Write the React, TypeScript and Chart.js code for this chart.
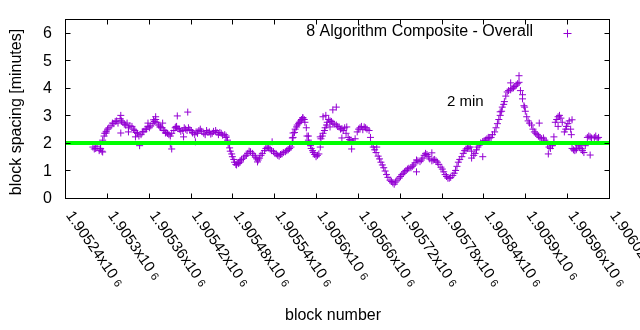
import React, { useEffect, useRef } from "react";
import { Chart, registerables } from "chart.js";

Chart.register(...registerables);

const FONT = '"Liberation Sans", Arial, sans-serif';

const BLOCKS = [
  1905280, 1905284, 1905289, 1905291, 1905294, 1905297, 1905301, 1905306, 1905310, 1905314,
  1905319, 1905323, 1905327, 1905331, 1905336, 1905340, 1905344, 1905349, 1905353, 1905357,
  1905361, 1905366, 1905370, 1905374, 1905379, 1905383, 1905387, 1905391, 1905396, 1905400,
  1905404, 1905409, 1905413, 1905417, 1905421, 1905426, 1905430, 1905434, 1905439, 1905443,
  1905447, 1905451, 1905456, 1905460, 1905464, 1905469, 1905471, 1905474, 1905477, 1905480,
  1905483, 1905486, 1905489, 1905491, 1905496, 1905500, 1905504, 1905509, 1905513, 1905517,
  1905521, 1905526, 1905530, 1905534, 1905539, 1905543, 1905547, 1905551, 1905556, 1905560,
  1905564, 1905567, 1905570, 1905573, 1905576, 1905579, 1905581, 1905584, 1905587, 1905590,
  1905593, 1905596, 1905600, 1905604, 1905607, 1905610, 1905613, 1905616, 1905620, 1905624,
  1905629, 1905633, 1905637, 1905641, 1905646, 1905650, 1905654, 1905659, 1905663, 1905667,
  1905671, 1905676, 1905680, 1905684, 1905689, 1905693, 1905697, 1905701, 1905706, 1905710,
  1905714, 1905719, 1905723, 1905727, 1905731, 1905736, 1905740, 1905744, 1905749, 1905753,
  1905757, 1905761, 1905766, 1905770, 1905774, 1905779, 1905783, 1905787, 1905791, 1905796,
  1905800, 1905804, 1905809, 1905813, 1905817, 1905821, 1905826, 1905830, 1905834, 1905839,
  1905843, 1905847, 1905851, 1905856, 1905860, 1905864, 1905867, 1905870, 1905874, 1905879,
  1905883, 1905887, 1905891, 1905896, 1905900, 1905904, 1905909, 1905913, 1905917, 1905921,
  1905926, 1905930, 1905934, 1905939, 1905943, 1905947, 1905951, 1905956, 1905959, 1905963,
  1905967, 1905971, 1905976, 1905980, 1905984, 1905989, 1905993, 1905999, 1906003,
];

const SPACING = [
  1.85, 1.8, 1.72, 1.78, 2.1, 2.35, 2.5, 2.62, 2.7, 2.8,
  2.88, 2.75, 2.65, 2.55, 2.6, 2.45, 2.35, 2.3, 2.42, 2.5,
  2.55, 2.7, 2.85, 2.65, 2.55, 2.45, 2.35, 2.25, 2.45, 2.6,
  2.5, 2.45, 2.5, 2.55, 2.45, 2.3, 2.35, 2.5, 2.35, 2.45,
  2.4, 2.35, 2.45, 2.3, 2.35, 2.3, 2.2, 1.95, 1.7, 1.5,
  1.3, 1.2, 1.25, 1.35, 1.45, 1.55, 1.7, 1.62, 1.48, 1.38,
  1.55, 1.72, 1.85, 1.78, 1.68, 1.6, 1.52, 1.6, 1.68, 1.75,
  1.85, 2.2, 2.5, 2.65, 2.75, 2.85, 2.92, 2.75, 2.25, 2.0,
  1.8, 1.65, 1.5, 1.6, 2.15, 2.35, 2.55, 2.75, 2.8, 2.72,
  2.65, 2.58, 2.52, 2.55, 2.2, 2.1, 2.05, 2.4, 2.55, 2.48,
  2.55, 2.45, 1.95, 1.75, 1.52, 1.3, 1.1, 0.85, 0.65, 0.55,
  0.58, 0.72, 0.85, 0.95, 1.05, 1.1, 1.2, 1.38, 1.32, 1.45,
  1.62, 1.5, 1.35, 1.4, 1.3, 1.12, 0.95, 0.78, 0.72, 0.82,
  1.0, 1.3, 1.5, 1.72, 1.8, 1.85, 1.55, 1.75, 1.92, 2.05,
  2.1, 2.2, 2.2, 2.4, 2.7, 3.0, 3.3, 3.5, 3.85, 3.93,
  4.0, 4.1, 4.2, 3.6, 3.15, 2.8, 2.65, 2.4, 2.3, 2.2,
  2.18, 2.05, 1.85, 1.9, 2.75, 2.95, 2.9, 2.4, 2.6, 2.8,
  1.8, 1.72, 1.9, 1.8, 1.65, 2.2, 2.22, 2.2, 2.15,
];

// second reading of the same band (its other edge), a couple of blocks later
const BLOCKS_B = [
  1905282, 1905286, 1905291, 1905293, 1905296, 1905299, 1905303, 1905308, 1905312, 1905316,
  1905321, 1905325, 1905329, 1905333, 1905338, 1905342, 1905346, 1905351, 1905355, 1905359,
  1905363, 1905368, 1905372, 1905376, 1905381, 1905385, 1905389, 1905393, 1905398, 1905402,
  1905406, 1905411, 1905415, 1905419, 1905423, 1905428, 1905432, 1905436, 1905441, 1905445,
  1905449, 1905453, 1905458, 1905462, 1905466, 1905471, 1905473, 1905476, 1905479, 1905482,
  1905485, 1905488, 1905491, 1905493, 1905498, 1905502, 1905506, 1905511, 1905515, 1905519,
  1905523, 1905528, 1905532, 1905536, 1905541, 1905545, 1905549, 1905553, 1905558, 1905562,
  1905566, 1905569, 1905572, 1905575, 1905578, 1905581, 1905583, 1905586, 1905589, 1905592,
  1905595, 1905598, 1905602, 1905606, 1905609, 1905612, 1905615, 1905618, 1905622, 1905626,
  1905631, 1905635, 1905639, 1905643, 1905648, 1905652, 1905656, 1905661, 1905665, 1905669,
  1905673, 1905678, 1905682, 1905686, 1905691, 1905695, 1905699, 1905703, 1905708, 1905712,
  1905716, 1905721, 1905725, 1905729, 1905733, 1905738, 1905742, 1905746, 1905751, 1905755,
  1905759, 1905763, 1905768, 1905772, 1905776, 1905781, 1905785, 1905789, 1905793, 1905798,
  1905802, 1905806, 1905811, 1905815, 1905819, 1905823, 1905828, 1905832, 1905836, 1905841,
  1905845, 1905849, 1905853, 1905858, 1905862, 1905866, 1905869, 1905872, 1905876, 1905881,
  1905885, 1905889, 1905893, 1905898, 1905902, 1905906, 1905911, 1905915, 1905919, 1905923,
  1905928, 1905932, 1905936, 1905941, 1905945, 1905949, 1905953, 1905958, 1905961, 1905965,
  1905969, 1905973, 1905978, 1905982, 1905986, 1905991, 1905995, 1906001, 1906005,
];

const SPACING_B = [
  1.78, 1.88, 1.8, 1.7, 2.25, 2.42, 2.55, 2.72, 2.78, 2.72,
  2.8, 2.68, 2.72, 2.62, 2.5, 2.38, 2.25, 2.4, 2.5, 2.6,
  2.62, 2.78, 2.75, 2.58, 2.45, 2.38, 2.3, 2.35, 2.55, 2.52,
  2.42, 2.55, 2.45, 2.48, 2.38, 2.4, 2.45, 2.42, 2.3, 2.38,
  2.32, 2.42, 2.38, 2.38, 2.28, 2.25, 2.1, 1.82, 1.6, 1.4,
  1.22, 1.28, 1.3, 1.4, 1.52, 1.62, 1.68, 1.55, 1.42, 1.45,
  1.62, 1.8, 1.82, 1.72, 1.62, 1.55, 1.58, 1.65, 1.72, 1.8,
  2.0, 2.38, 2.58, 2.7, 2.8, 2.9, 2.85, 2.55, 2.1, 1.9,
  1.72, 1.58, 1.55, 1.85, 2.25, 2.45, 2.65, 2.85, 2.78, 2.68,
  2.6, 2.5, 2.45, 2.35, 2.12, 2.05, 2.15, 2.5, 2.6, 2.58,
  2.5, 2.2, 1.85, 1.65, 1.42, 1.2, 0.98, 0.75, 0.6, 0.5,
  0.65, 0.78, 0.9, 1.0, 1.08, 1.15, 1.28, 1.35, 1.38, 1.55,
  1.58, 1.42, 1.38, 1.35, 1.22, 1.05, 0.85, 0.72, 0.75, 0.9,
  1.15, 1.4, 1.62, 1.78, 1.85, 1.7, 1.62, 1.85, 2.0, 2.08,
  2.15, 2.18, 2.3, 2.55, 2.85, 3.15, 3.4, 3.7, 3.9, 3.98,
  4.05, 4.15, 3.9, 3.35, 2.95, 2.72, 2.5, 2.35, 2.25, 2.15,
  2.1, 1.95, 1.8, 2.0, 2.85, 3.0, 2.75, 2.5, 2.7, 2.5,
  1.75, 1.8, 1.85, 1.72, 1.9, 2.25, 2.18, 2.25, 2.2,
];

// scattered points
const OUTLIER_BLOCKS = [
  1905320, 1905347, 1905391, 1905393, 1905401, 1905416, 1905537, 1905589, 1905614, 1905624,
  1905629, 1905637, 1905651, 1905864, 1905879, 1905891, 1905933, 1905947, 1905993,
  1905320, 1905359, 1905370, 1905380, 1905384, 1905399, 1905410, 1905423, 1905331, 1905341,
  1905299, 1905294, 1905427, 1905377, 1905367, 1905566, 1905567, 1905610, 1905620, 1905644,
  1905606, 1905687, 1905516, 1905766, 1905744, 1905896, 1905899, 1905920, 1905941, 1905967,
  1905966, 1905973, 1905839, 1905823,
];
const OUTLIER_SPACING = [
  3.0, 1.9, 1.95, 1.78, 2.98, 3.12, 2.04, 2.25, 3.0, 3.2,
  3.3, 2.18, 1.78, 3.13, 4.18, 4.44, 1.6, 2.6, 1.56,
  2.36, 2.72, 2.95, 2.72, 2.36, 2.58, 2.22, 2.36, 2.4, 2.22,
  2.36, 1.67, 2.04, 2.58, 2.84, 2.18, 2.36, 2.95, 2.58, 2.58,
  2.22, 1.85, 1.31, 1.64, 0.95, 3.75, 3.3, 2.72, 2.22, 2.84,
  2.3, 1.75, 1.5, 1.45,
];

const TARGET = 2;
const X_MIN = 1905240;
const X_MAX = 1906020;
const Y_MIN = 0;
const Y_MAX = 6.5;
const X_TICKS = [
  1905240, 1905300, 1905360, 1905420, 1905480, 1905540, 1905600,
  1905660, 1905720, 1905780, 1905840, 1905900, 1905960, 1906020,
];
const X_TICK_LABELS = [
  "1.90524", "1.9053", "1.90536", "1.90542", "1.90548", "1.90554", "1.9056",
  "1.90566", "1.90572", "1.90578", "1.90584", "1.9059", "1.90596", "1.90602",
];
const Y_TICKS = [0, 1, 2, 3, 4, 5, 6];
const SERIES_LABEL = "8 Algorithm Composite - Overall";
const TARGET_LABEL = "2 min";
const X_TITLE = "block number";
const Y_TITLE = "block spacing [minutes]";

const PURPLE = "#9400d3";
const GREEN = "#00ff00";

export default function App() {
  const ref = useRef<HTMLCanvasElement>(null);

  useEffect(() => {
    const canvas = ref.current;
    if (!canvas) return;

    const points = BLOCKS.map((b, i) => ({ x: b, y: SPACING[i] }))
      .concat(BLOCKS_B.map((b, i) => ({ x: b, y: SPACING_B[i] })))
      .concat(OUTLIER_BLOCKS.map((b, i) => ({ x: b, y: OUTLIER_SPACING[i] })));

    const decor = {
      id: "decor",
      afterDraw(chart: any) {
        const { ctx, chartArea: a } = chart;
        const xs = chart.scales.x;
        const ys = chart.scales.y;
        ctx.save();
        ctx.strokeStyle = "#000";
        ctx.lineWidth = 1;
        const L = Math.round(a.left) + 0.5;
        const R = Math.round(a.right) + 0.5;
        const T = Math.round(a.top) + 0.5;
        const B = Math.round(a.bottom) + 0.5;
        ctx.strokeRect(L, T, R - L, B - T);
        const tl = 5;
        ctx.beginPath();
        X_TICKS.forEach((v) => {
          const px = Math.round(xs.getPixelForValue(v)) + 0.5;
          ctx.moveTo(px, B);
          ctx.lineTo(px, B - tl);
          ctx.moveTo(px, T);
          ctx.lineTo(px, T + tl);
        });
        Y_TICKS.forEach((v) => {
          const py = Math.round(ys.getPixelForValue(v)) + 0.5;
          ctx.moveTo(L, py);
          ctx.lineTo(L + tl, py);
          ctx.moveTo(R, py);
          ctx.lineTo(R - tl, py);
        });
        ctx.stroke();

        ctx.fillStyle = "#000";
        ctx.font = `16px ${FONT}`;
        ctx.textAlign = "right";
        ctx.textBaseline = "middle";
        Y_TICKS.forEach((v) => {
          ctx.fillText(String(v), 52, ys.getPixelForValue(v) + 1);
        });

        const ang = (55 * Math.PI) / 180;
        X_TICKS.forEach((v, i) => {
          const px = xs.getPixelForValue(v);
          ctx.save();
          ctx.translate(px + 4, 213);
          ctx.rotate(ang);
          ctx.textAlign = "left";
          ctx.textBaseline = "middle";
          ctx.font = `15px ${FONT}`;
          const main = X_TICK_LABELS[i] + "x10";
          ctx.fillText(main, 0, 0);
          const w = ctx.measureText(main).width;
          ctx.font = `11px ${FONT}`;
          ctx.fillText("6", w + 4, 1);
          ctx.restore();
        });

        ctx.font = `16px ${FONT}`;
        ctx.textAlign = "center";
        ctx.textBaseline = "middle";
        ctx.fillText(X_TITLE, 333, 316);
        ctx.save();
        ctx.translate(17, 112);
        ctx.rotate(-Math.PI / 2);
        ctx.fillText(Y_TITLE, 0, 0);
        ctx.restore();

        ctx.textAlign = "right";
        ctx.fillText(SERIES_LABEL, 533, 32);
        ctx.strokeStyle = PURPLE;
        ctx.beginPath();
        ctx.moveTo(563.5, 33.5);
        ctx.lineTo(571.5, 33.5);
        ctx.moveTo(567.5, 29.5);
        ctx.lineTo(567.5, 37.5);
        ctx.stroke();

        ctx.fillStyle = "#000";
        ctx.textAlign = "left";
        ctx.font = `15px ${FONT}`;
        ctx.fillText(TARGET_LABEL, 447, 102);
        ctx.restore();
      },
    };

    const chart = new Chart(canvas, {
      type: "scatter",
      data: {
        datasets: [
          {
            type: "line",
            label: TARGET_LABEL,
            data: [
              { x: X_MIN, y: TARGET },
              { x: X_MAX, y: TARGET },
            ],
            borderColor: GREEN,
            borderWidth: 4,
            pointRadius: 0,
            order: 0,
          } as any,
          {
            label: SERIES_LABEL,
            data: points,
            pointStyle: "cross",
            pointRadius: 3.5,
            pointHoverRadius: 3.5,
            borderColor: PURPLE,
            backgroundColor: PURPLE,
            borderWidth: 1,
            showLine: false,
            order: 1,
          },
        ],
      },
      options: {
        animation: false,
        responsive: false,
        maintainAspectRatio: false,
        events: [],
        layout: { padding: { top: 19, right: 31, left: 0, bottom: 0 } },
        plugins: {
          legend: { display: false },
          tooltip: { enabled: false },
        },
        scales: {
          x: {
            type: "linear",
            min: X_MIN,
            max: X_MAX,
            ticks: { display: false },
            grid: { display: false },
            border: { display: false },
            afterFit: (s: any) => {
              s.height = 132;
            },
          },
          y: {
            type: "linear",
            min: Y_MIN,
            max: Y_MAX,
            ticks: { display: false },
            grid: { display: false },
            border: { display: false },
            afterFit: (s: any) => {
              s.width = 65;
            },
          },
        },
      },
      plugins: [decor],
    });

    return () => chart.destroy();
  }, []);

  return (
    <div style={{ position: "fixed", left: 0, top: 0, width: 640, height: 330, background: "#fff" }}>
      <canvas ref={ref} width={640} height={330} style={{ width: 640, height: 330, display: "block" }} />
    </div>
  );
}
